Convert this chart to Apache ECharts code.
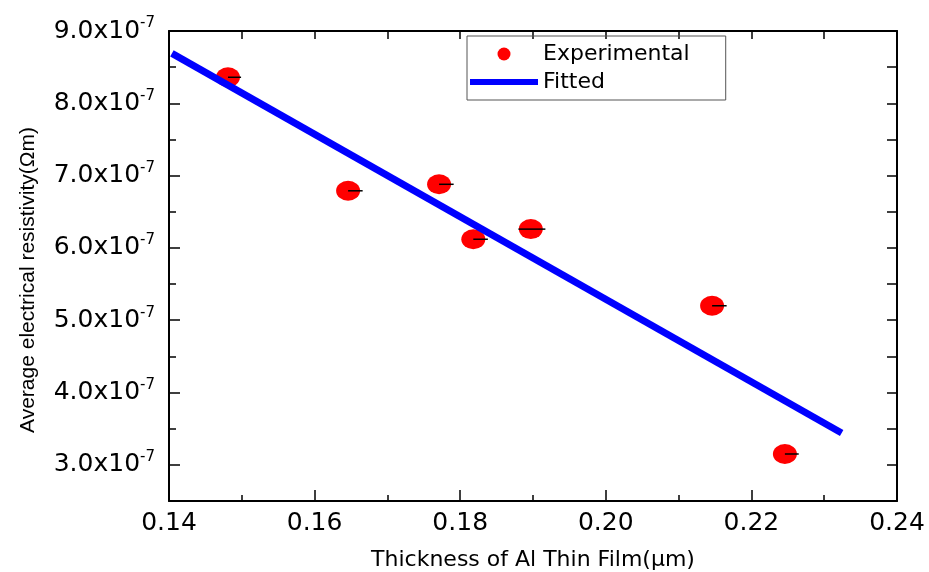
<!DOCTYPE html>
<html>
<head>
<meta charset="utf-8">
<script src="https://cdn.jsdelivr.net/npm/echarts@6/dist/echarts.min.js"></script>
<style>
html,body{margin:0;padding:0;background:#fff;overflow:hidden;}
#chart{width:929px;height:572px;}
</style>
</head>
<body>
<div id="chart"></div>
<script>
// Data
const thickness = [0.1481, 0.1646, 0.1771, 0.1818, 0.1897, 0.2146, 0.2246];
const resistivity = [8.36e-7, 6.79e-7, 6.88e-7, 6.12e-7, 6.26e-7, 5.20e-7, 3.15e-7];
const errMinus = [0, 0, 0, 0, 0.0017, 0, 0];
const errPlus = [0.0018, 0.0020, 0.0020, 0.0020, 0.0020, 0.0020, 0.0019];
const fitX = [0.1404, 0.2324];
const fitY = [8.69e-7, 3.44e-7];
const yMajorTicks = [3e-7, 4e-7, 5e-7, 6e-7, 7e-7, 8e-7, 9e-7];
const seriesNames = ['Experimental', 'Fitted'];

const expData = thickness.map((x, i) => [x, resistivity[i]]);
const errData = thickness.map((x, i) => [x, resistivity[i], errMinus[i], errPlus[i]]);
const fitData = fitX.map((x, i) => [x, fitY[i]]);

const chart = echarts.init(document.getElementById('chart'), null, {width: 929, height: 572});
const axisLine = {show: true, lineStyle: {color: '#000', width: 2}};
const option = {
  animation: false,
  backgroundColor: '#fff',
  grid: {left: 169, right: 32, top: 31, bottom: 71, containLabel: false, outerBoundsMode: 'none'},
  legend: {
    data: [
      {name: seriesNames[0], icon: 'circle'},
      {name: seriesNames[1], icon: 'path://M0,0H68V6H0Z'}
    ],
    orient: 'vertical',
    left: 467, top: 36,
    itemWidth: 68, itemHeight: 13, itemGap: 6,
    symbolKeepAspect: true,
    padding: [7, 36, 7, 3],
    borderColor: '#555', borderWidth: 1,
    textStyle: {fontFamily: 'DejaVu Sans', fontSize: 22, color: '#000'}
  },
  xAxis: [
    {
      type: 'value', position: 'bottom', min: 0.14, max: 0.24, interval: 0.02,
      axisLine: axisLine,
      axisTick: {show: true, inside: true, length: 11, lineStyle: {color: '#000', width: 1.5}},
      minorTick: {show: true, splitNumber: 2, length: 6, lineStyle: {color: '#000', width: 1.5}},
      splitLine: {show: false},
      axisLabel: {margin: 10, fontFamily: 'DejaVu Sans', fontSize: 25, color: '#000',
        formatter: v => v.toFixed(2)},
      name: 'Thickness of Al Thin Film(\u03bcm)', nameLocation: 'middle', nameGap: 48,
      nameTextStyle: {fontFamily: 'DejaVu Sans', fontSize: 22, color: '#000'}
    },
    {
      type: 'value', position: 'top', min: 0.14, max: 0.24, interval: 0.01,
      axisLine: axisLine,
      axisTick: {show: true, inside: true, length: 8, lineStyle: {color: '#000', width: 1.5}},
      splitLine: {show: false}, axisLabel: {show: false}
    }
  ],
  yAxis: [
    {
      type: 'value', position: 'left', min: 2.5e-7, max: 9e-7, interval: 0.5e-7,
      axisLine: axisLine,
      axisTick: {show: true, inside: true, length: 7, lineStyle: {color: '#000', width: 1.5}},
      splitLine: {show: false},
      axisLabel: {
        margin: 14, color: '#000',
        formatter: v => {
          const t = Math.round(v * 1e8);
          if (t % 10 !== 0) return '';
          return '{a|' + (t / 10).toFixed(1) + 'x10}{b|-7}';
        },
        rich: {
          a: {fontFamily: 'DejaVu Sans', fontSize: 25, color: '#000', lineHeight: 30},
          b: {fontFamily: 'DejaVu Sans', fontSize: 15, color: '#000', verticalAlign: 'top', lineHeight: 30, padding: [0, 0, 12, 0]}
        }
      },
      name: 'Average electrical resistivity(\u03a9m)', nameLocation: 'middle', nameGap: 130,
      nameTextStyle: {fontFamily: 'Liberation Sans', fontSize: 21, color: '#000', padding: [0, 28, 0, 0]}
    },
    {
      type: 'value', position: 'right', min: 2.5e-7, max: 9e-7, interval: 0.5e-7,
      axisLine: axisLine,
      axisTick: {show: true, inside: true, length: 10, lineStyle: {color: '#000', width: 1.5}},
      splitLine: {show: false}, axisLabel: {show: false}
    },
    {
      type: 'value', position: 'left', min: 2.5e-7, max: 9e-7,
      axisLine: {show: false},
      axisTick: {show: true, inside: true, length: 11, customValues: yMajorTicks, lineStyle: {color: '#000', width: 1.5}},
      splitLine: {show: false}, axisLabel: {show: false}
    }
  ],
  series: [
    {
      name: seriesNames[0], type: 'scatter', xAxisIndex: 0, yAxisIndex: 0,
      data: expData, symbol: 'circle', symbolSize: [24, 20],
      itemStyle: {color: '#ff0000', opacity: 1}, z: 2
    },
    {
      name: seriesNames[1], type: 'line', xAxisIndex: 0, yAxisIndex: 0,
      data: fitData, symbol: 'none',
      lineStyle: {color: '#0000ff', width: 7}, itemStyle: {color: '#0000ff'}, z: 3
    },
    {
      name: 'err', type: 'custom', xAxisIndex: 0, yAxisIndex: 0,
      data: errData, encode: {x: 0, y: 1}, z: 4, silent: true,
      renderItem: function (params, api) {
        const x = api.value(0), y = api.value(1);
        const p1 = api.coord([x - api.value(2), y]);
        const p2 = api.coord([x + api.value(3), y]);
        return {type: 'line', shape: {x1: p1[0], y1: p1[1], x2: p2[0], y2: p2[1]},
          style: {stroke: '#000', lineWidth: 1.5}};
      }
    }
  ]
};
chart.setOption(option);
</script>
</body>
</html>
